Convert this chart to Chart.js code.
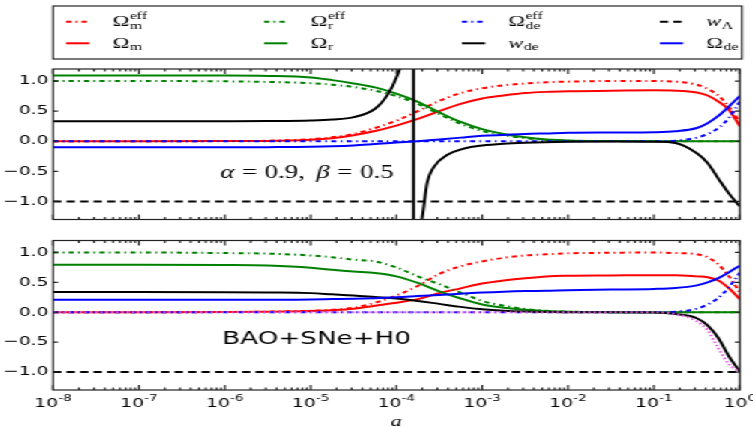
<!DOCTYPE html>
<html lang="en">
<head>
<meta charset="UTF-8">
<title>Omega and w_de against a</title>
<script src="https://cdn.jsdelivr.net/npm/chart.js"></script>
<style>
  html, body { margin: 0; padding: 0; background: #fff; overflow: hidden; }
  /* the figure is laid out on a 502px stage and widened to the window */
  #stage { position: relative; width: 502px; height: 427px; transform: scaleX(1.5); transform-origin: 0 0; }
  #stage canvas { position: absolute; left: 0; }
</style>
</head>
<body>
<div id="stage">
  <canvas id="topChart" width="502" height="230" style="top:0"></canvas>
  <canvas id="bottomChart" width="502" height="197" style="top:230px"></canvas>
</div>
<script>
// sampling grid, log10(a)
const logA = [-8, -7, -6, -5.5, -5, -4.75, -4.5, -4.25, -4, -3.75, -3.5, -3.25, -3, -2.75, -2.5, -2.25, -2, -1.5, -1, -0.75, -0.5, -0.375, -0.25, -0.125, 0];

// upper panel: alpha = 0.9, beta = 0.5
const omMEffA  = [0, 0, 0.003, 0.008, 0.035, 0.065, 0.12, 0.22, 0.34, 0.5, 0.67, 0.8, 0.88, 0.93, 0.96, 0.98, 0.99, 1.0, 1.0, 0.99, 0.94, 0.87, 0.76, 0.57, 0.32];
const omMA     = [0, 0, 0.002, 0.005, 0.025, 0.05, 0.1, 0.17, 0.26, 0.37, 0.5, 0.62, 0.71, 0.76, 0.8, 0.82, 0.83, 0.84, 0.845, 0.84, 0.81, 0.76, 0.66, 0.52, 0.25];
const omREffA  = [1.0, 1.0, 0.995, 0.985, 0.965, 0.94, 0.9, 0.84, 0.75, 0.62, 0.45, 0.29, 0.17, 0.1, 0.05, 0.02, 0.008, 0.001, 0, 0, 0, 0, 0, 0, 0];
const omRA     = [1.09, 1.09, 1.09, 1.085, 1.06, 1.015, 0.96, 0.895, 0.79, 0.655, 0.48, 0.32, 0.2, 0.12, 0.065, 0.03, 0.012, 0.002, 0, 0, 0, 0, 0, 0, 0];
const omDeEffA = [0, 0, 0, 0, 0, 0, 0, 0, 0, 0, 0, 0, 0, 0, 0, 0, 0, 0, 0, 0.01, 0.06, 0.12, 0.22, 0.39, 0.66];
const omDeA    = [-0.1, -0.1, -0.1, -0.098, -0.093, -0.085, -0.07, -0.045, -0.02, 0.0, 0.03, 0.06, 0.09, 0.105, 0.12, 0.13, 0.14, 0.145, 0.15, 0.165, 0.22, 0.3, 0.42, 0.58, 0.75];
// w_de has a pole just below a = 2e-4, so it gets its own grid
const wDeLogA  = [-8, -7, -6, -5.5, -5, -4.75, -4.5, -4.25, -4.1, -4.0, -3.93, -3.88, -3.84, -3.80, -3.7999, -3.75, -3.71, -3.64, -3.56, -3.41, -3.21, -3.0, -2.75, -2.5, -2, -1.5, -1, -0.75, -0.5, -0.375, -0.25, -0.125, 0];
const wDeA     = [0.33, 0.33, 0.333, 0.336, 0.345, 0.36, 0.4, 0.54, 0.78, 1.06, 1.38, 2.0, 3.5, 30, -30, -2.5, -1.35, -0.68, -0.42, -0.23, -0.12, -0.07, -0.04, -0.025, -0.01, -0.005, -0.01, -0.03, -0.2, -0.36, -0.62, -0.87, -1.08];

// lower panel: BAO+SNe+H0
const omMEffB  = [0, 0, 0.004, 0.01, 0.025, 0.04, 0.075, 0.16, 0.28, 0.44, 0.64, 0.77, 0.85, 0.91, 0.95, 0.97, 0.985, 0.995, 1.0, 0.99, 0.97, 0.92, 0.8, 0.6, 0.33];
const omMB     = [0, 0, 0.003, 0.008, 0.02, 0.035, 0.06, 0.11, 0.16, 0.22, 0.32, 0.4, 0.48, 0.53, 0.57, 0.6, 0.61, 0.615, 0.62, 0.62, 0.6, 0.585, 0.53, 0.4, 0.22];
const omREffB  = [1.0, 1.0, 0.99, 0.98, 0.95, 0.92, 0.88, 0.85, 0.75, 0.6, 0.47, 0.33, 0.19, 0.11, 0.055, 0.025, 0.01, 0.002, 0, 0, 0, 0, 0, 0, 0];
const omRB     = [0.795, 0.795, 0.79, 0.78, 0.745, 0.71, 0.68, 0.655, 0.6, 0.49, 0.35, 0.23, 0.13, 0.075, 0.04, 0.02, 0.008, 0.002, 0, 0, 0, 0, 0, 0, 0];
const omDeEffB = [0, 0, 0, 0, 0, 0, 0, 0, 0, 0, 0, 0, 0, 0, 0, 0, 0, 0, 0, 0.01, 0.06, 0.13, 0.24, 0.42, 0.66];
const omDeB    = [0.21, 0.21, 0.21, 0.21, 0.215, 0.22, 0.225, 0.235, 0.25, 0.27, 0.29, 0.31, 0.33, 0.345, 0.355, 0.36, 0.37, 0.38, 0.39, 0.405, 0.45, 0.5, 0.57, 0.67, 0.78];
const wDeB     = [0.34, 0.34, 0.335, 0.33, 0.32, 0.3, 0.28, 0.255, 0.23, 0.19, 0.14, 0.09, 0.05, 0.025, 0.012, 0.005, 0, 0, -0.005, -0.03, -0.1, -0.22, -0.43, -0.74, -0.99];
const wDeEffB  = [0, 0, 0, 0, 0, 0, 0, 0, 0, 0, 0, 0, 0, 0, 0, 0, 0, 0, 0, -0.03, -0.15, -0.3, -0.6, -0.87, -1.0];

// cosmological constant
const wLambdaLogA = [-8, 0];
const wLambda = [-1, -1];

const yTicks = [-1, -0.5, 0, 0.5, 1];
const decades = [-8, -7, -6, -5, -4, -3, -2, -1, 0];

const DASHDOT = [3.5, 2.8, 1.2, 2.8];
const DASHED = [5.5, 3.5];
const DOTTED = [1.5, 2];

function pts(xs, ys) {
    return xs.map((e, i) => ({ x: Math.pow(10, e), y: ys[i] }));
}

function series(xs, ys, color, dash, math) {
    return { data: pts(xs, ys), borderColor: color, borderDash: dash, borderWidth: 2, pointRadius: 0, fill: false, math: math };
}

function panelSets(mEff, m, rEff, r, deEff, wXs, wDe, de) {
    return [
        series(logA, mEff, '#ff0000', DASHDOT, { base: '\u03A9', sub: 'm', sup: 'eff' }),
        series(logA, m, '#ff0000', [], { base: '\u03A9', sub: 'm' }),
        series(logA, rEff, '#008000', DASHDOT, { base: '\u03A9', sub: 'r', sup: 'eff' }),
        series(logA, r, '#008000', [], { base: '\u03A9', sub: 'r' }),
        series(logA, deEff, '#0000ff', DASHDOT, { base: '\u03A9', sub: 'de', sup: 'eff' }),
        series(wXs, wDe, '#000000', [], { base: 'w', italic: true, sub: 'de' }),
        series(wLambdaLogA, wLambda, '#000000', DASHED, { base: 'w', italic: true, sub: '\u039B' }),
        series(logA, de, '#0000ff', [], { base: '\u03A9', sub: 'de' })
    ];
}

// box with inward ticks on all four sides
const framePlugin = {
    id: 'frame',
    afterDatasetsDraw(chart) {
        const { ctx, chartArea: a, scales: { x, y } } = chart;
        ctx.save();
        ctx.strokeStyle = '#222';
        ctx.lineWidth = 1.2;
        ctx.setLineDash([]);
        ctx.strokeRect(a.left, a.top, a.right - a.left, a.bottom - a.top);
        ctx.beginPath();
        decades.forEach(d => {
            for (let k = 1; k < 10; k++) {
                const v = k * Math.pow(10, d);
                if (v > 1.0001) break;
                const px = x.getPixelForValue(v);
                const len = k === 1 ? 5 : 2.5;
                ctx.moveTo(px, a.bottom); ctx.lineTo(px, a.bottom - len);
                ctx.moveTo(px, a.top); ctx.lineTo(px, a.top + len);
            }
        });
        yTicks.forEach(v => {
            const py = y.getPixelForValue(v);
            ctx.moveTo(a.left, py); ctx.lineTo(a.left + 3.3, py);
            ctx.moveTo(a.right, py); ctx.lineTo(a.right - 3.3, py);
        });
        ctx.stroke();
        ctx.restore();
    }
};

// 10 with a raised exponent under each decade
const decadeLabels = {
    id: 'decadeLabels',
    afterDraw(chart) {
        const { ctx, chartArea: a, scales: { x } } = chart;
        const big = '12.5px "DejaVu Sans"', small = '9px "DejaVu Sans"';
        ctx.save();
        ctx.fillStyle = '#000';
        ctx.textAlign = 'left';
        ctx.textBaseline = 'alphabetic';
        decades.forEach(d => {
            const px = x.getPixelForValue(Math.pow(10, d));
            const exp = String(d);
            ctx.font = big;
            const w1 = ctx.measureText('10').width;
            ctx.font = small;
            const w2 = ctx.measureText(exp).width;
            const x0 = px - (w1 + w2) / 2;
            ctx.font = big;
            ctx.fillText('10', x0, a.bottom + 17);
            ctx.font = small;
            ctx.fillText(exp, x0 + w1, a.bottom + 10.5);
        });
        ctx.restore();
    }
};

function drawMath(ctx, m, x, y) {
    ctx.fillStyle = '#000';
    ctx.textBaseline = 'alphabetic';
    ctx.font = (m.italic ? 'italic ' : '') + '15px "Liberation Serif"';
    ctx.fillText(m.base, x, y);
    const w = ctx.measureText(m.base).width;
    ctx.font = '10.5px "Liberation Serif"';
    if (m.sub) ctx.fillText(m.sub, x + w + 0.3, y + 2.5);
    if (m.sup) ctx.fillText(m.sup, x + w + 0.3, y - 7.5);
}

// legend in four columns above the upper panel
const mathLegend = {
    id: 'mathLegend',
    afterDraw(chart) {
        const ctx = chart.ctx;
        ctx.save();
        ctx.strokeStyle = '#222';
        ctx.lineWidth = 1.2;
        ctx.strokeRect(35.3, 6, 459.4, 53);
        chart.data.datasets.forEach((ds, i) => {
            if (!ds.math) return;
            const x0 = 44 + Math.floor(i / 2) * 132;
            const y0 = 21.7 + (i % 2) * 21.6;
            ctx.strokeStyle = ds.borderColor;
            ctx.lineWidth = 2;
            ctx.setLineDash(ds.borderDash);
            ctx.beginPath();
            ctx.moveTo(x0, y0);
            ctx.lineTo(x0 + 15.5, y0);
            ctx.stroke();
            ctx.setLineDash([]);
            drawMath(ctx, ds.math, x0 + 31, y0 + 4.5);
        });
        ctx.restore();
    }
};

function makeNote(parts, x, y) {
    return {
        id: 'note',
        afterDatasetsDraw(chart) {
            const ctx = chart.ctx;
            ctx.save();
            ctx.fillStyle = '#000';
            ctx.textBaseline = 'alphabetic';
            let cx = x;
            parts.forEach(p => {
                ctx.font = p.f;
                ctx.fillText(p.t, cx, y);
                cx += ctx.measureText(p.t).width + (p.gap || 0);
            });
            ctx.restore();
        }
    };
}

function yScale() {
    return {
        min: -1.3, max: 1.2,
        afterBuildTicks: s => { s.ticks = yTicks.map(v => ({ value: v })); },
        afterFit: s => { s.width = 35.3; },
        grid: { display: false, drawTicks: false },
        border: { display: false },
        ticks: {
            padding: 3, color: '#000',
            font: { family: 'DejaVu Sans', size: 12.5 },
            callback: v => (v < 0 ? '\u2212' : '') + Math.abs(v).toFixed(1)
        }
    };
}

function baseOptions(padTop, padBottom, xScale) {
    return {
        responsive: false,
        animation: false,
        devicePixelRatio: 1,
        layout: { autoPadding: false, padding: { left: 0, right: 8.7, top: padTop, bottom: padBottom } },
        plugins: { legend: { display: false }, tooltip: { enabled: false } },
        elements: { line: { cubicInterpolationMode: 'monotone' }, point: { radius: 0 } },
        scales: { x: xScale, y: yScale() }
    };
}

function ordered(sets) {
    // later series are drawn on top
    sets.forEach((s, i) => { s.order = -i; });
    return sets;
}

const serif = '18px "Liberation Serif"';
const serifIt = 'italic 18px "Liberation Serif"';

new Chart(document.getElementById('topChart'), {
    type: 'line',
    data: { datasets: ordered(panelSets(omMEffA, omMA, omREffA, omRA, omDeEffA, wDeLogA, wDeA, omDeA)) },
    options: baseOptions(69, 4, { type: 'logarithmic', min: 1e-8, max: 1, display: false }),
    plugins: [framePlugin, mathLegend, makeNote([
        { t: '\u03B1', f: serifIt, gap: 5 },
        { t: '=', f: serif, gap: 5 },
        { t: '0.9,', f: serif, gap: 7.5 },
        { t: '\u03B2', f: serifIt, gap: 5 },
        { t: '=', f: serif, gap: 5 },
        { t: '0.5', f: serif }
    ], 146.7, 177.7)]
});

const lowerSets = panelSets(omMEffB, omMB, omREffB, omRB, omDeEffB, logA, wDeB, omDeB);
lowerSets.push(series(logA, wDeEffB, '#e65ce6', DOTTED, null));

new Chart(document.getElementById('bottomChart'), {
    type: 'line',
    data: { datasets: ordered(lowerSets) },
    options: baseOptions(4, 0, {
        type: 'logarithmic', min: 1e-8, max: 1,
        afterFit: s => { s.height = 37; },
        grid: { display: false, drawTicks: false },
        border: { display: false },
        ticks: { display: false },
        title: {
            display: true, text: 'a', color: '#000',
            font: { family: 'Liberation Serif', size: 15, style: 'italic' },
            padding: { top: 0, bottom: -4 }
        }
    }),
    plugins: [framePlugin, decadeLabels, makeNote([{ t: 'BAO+SNe+H0', f: '17.5px "DejaVu Sans"' }], 148, 114.3)]
});
</script>
</body>
</html>
